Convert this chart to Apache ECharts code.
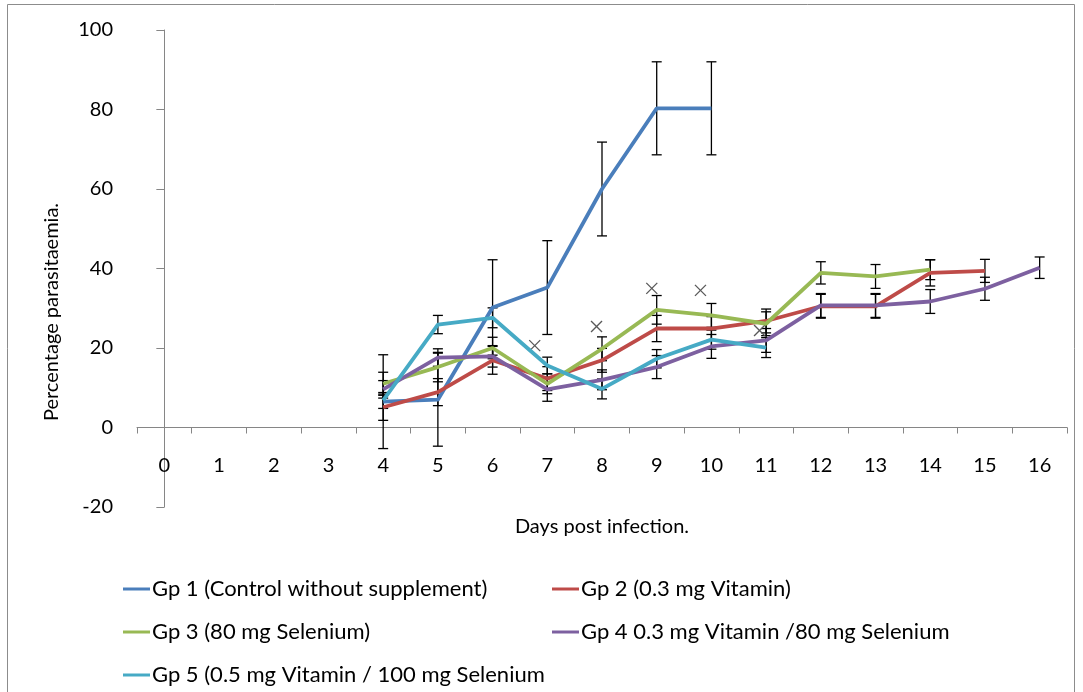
<!DOCTYPE html>
<html>
<head>
<meta charset="utf-8">
<script src="https://cdn.jsdelivr.net/npm/echarts@6/dist/echarts.min.js"></script>
<style>
  html, body { margin: 0; padding: 0; background: #fff; }
  #chart { width: 1083px; height: 692px; }
</style>
</head>
<body>
<div id="chart"></div>
<script>
// days post infection (category axis)
var days = ['0', '1', '2', '3', '4', '5', '6', '7', '8', '9', '10', '11', '12', '13', '14', '15', '16']

// mean % parasitaemia per group (null = not measured)
var gp1 = [null, null, null, null, 6.5, 7.0, 30.2, 35.2, 60.0, 80.3, 80.3, null, null, null, null, null, null]
var gp2 = [null, null, null, null, 5.1, 8.9, 16.9, 12.3, 16.9, 24.9, 24.9, 26.8, 30.5, 30.5, 38.9, 39.4, null]
var gp3 = [null, null, null, null, 11.0, 15.2, 20.0, 11.0, 19.8, 29.6, 28.2, 26.1, 38.9, 38.0, 39.7, null, null]
var gp4 = [null, null, null, null, 9.6, 17.6, 17.9, 9.6, 12.0, 15.2, 20.4, 21.9, 30.7, 30.7, 31.7, 34.9, 40.2]
var gp5 = [null, null, null, null, 6.8, 25.9, 27.6, 15.6, 9.7, 17.3, 22.1, 20.1, null, null, null, null, null]

// error bar half-widths
var err1 = [null, null, null, null, 11.8, 11.7, 12.0, 11.8, 11.8, 11.7, 11.7, null, null, null, null, null, null]
var err2 = [null, null, null, null, 3.3, 3.4, 3.5, 3.0, 3.0, 3.3, 3.0, 3.0, 3.0, 3.0, 3.3, 2.9, null]
var err3 = [null, null, null, null, 2.9, 3.7, 2.7, 2.5, 3.0, 3.6, 3.0, 3.0, 2.8, 3.0, 2.5, null, null]
var err4 = [null, null, null, null, 2.2, 2.2, 2.7, 3.0, 2.5, 2.9, 3.0, 3.0, 3.0, 3.0, 3.0, 2.9, 2.7]
var err5 = [null, null, null, null, 2.0, 2.3, 2.5, 2.1, 2.5, 2.3, 2.4, 2.5, null, null, null, null, null]

// stray "x" markers (day position, value)
var crossDay = [6.77, 7.90, 8.91, 9.80, 10.88]
var crossVal = [20.6, 25.4, 35.0, 34.5, 24.4]

var names = [
  'Gp 1 (Control without supplement)',
  'Gp 2 (0.3 mg Vitamin)',
  'Gp 3 (80 mg Selenium)',
  'Gp 4 0.3 mg Vitamin /80 mg Selenium',
  'Gp 5 (0.5 mg Vitamin / 100 mg Selenium'
]
var colors = ['#4A7EBB', '#BE4B48', '#98B954', '#7D60A0', '#46AAC5']
var means = [gp1, gp2, gp3, gp4, gp5]
var errs = [err1, err2, err3, err4, err5]

var font = 'Lato, "Open Sans", sans-serif'
var fs = 20

function errData(m, e) {
  var out = []
  m.forEach(function(v, i) {
    if (v !== null && e[i] !== null) out.push([i, v, e[i]])
  })
  return out
}

function renderErr(params, api) {
  var x = api.value(0)
  var y = api.value(1)
  var e = api.value(2)
  var top = api.coord([x, y + e])
  var bot = api.coord([x, y - e])
  var w = 5
  var st = { stroke: '#000', lineWidth: 1.3 }
  return {
    type: 'group',
    children: [
      { type: 'line', shape: { x1: top[0], y1: top[1], x2: bot[0], y2: bot[1] }, style: st },
      { type: 'line', shape: { x1: top[0] - w, y1: top[1], x2: top[0] + w, y2: top[1] }, style: st },
      { type: 'line', shape: { x1: bot[0] - w, y1: bot[1], x2: bot[0] + w, y2: bot[1] }, style: st }
    ]
  }
}

function renderCross(params, api) {
  var p = api.coord([api.value(0), api.value(1)])
  var s = 5.5
  var st = { stroke: '#595959', lineWidth: 1.3 }
  return {
    type: 'group',
    children: [
      { type: 'line', shape: { x1: p[0] - s, y1: p[1] - s, x2: p[0] + s, y2: p[1] + s }, style: st },
      { type: 'line', shape: { x1: p[0] - s, y1: p[1] + s, x2: p[0] + s, y2: p[1] - s }, style: st }
    ]
  }
}

var series = []
means.forEach(function(m, k) {
  series.push({
    name: 'err ' + (k + 1),
    type: 'custom',
    renderItem: renderErr,
    data: errData(m, errs[k]),
    z: 1,
    silent: true
  })
})
means.forEach(function(m, k) {
  series.push({
    name: names[k],
    type: 'line',
    data: m,
    symbol: 'none',
    color: colors[k],
    lineStyle: { width: 3.8, color: colors[k] },
    z: 3
  })
})
series.push({
  name: 'x marks',
  type: 'custom',
  xAxisIndex: 1,
  renderItem: renderCross,
  data: crossDay.map(function(d, i) { return [d, crossVal[i]] }),
  z: 2,
  silent: true
})

var legendCommon = {
  orient: 'vertical',
  icon: 'rect',
  padding: 0,
  itemWidth: 27,
  itemHeight: 3,
  itemGap: 21,
  selectedMode: false,
  textStyle: { fontFamily: font, fontSize: 22, color: '#000', lineHeight: 21, padding: [0, 0, 0, -3] }
}

var chart = echarts.init(document.getElementById('chart'), null, { renderer: 'canvas' })
chart.setOption({
  animation: false,
  backgroundColor: '#fff',
  grid: { left: 137, right: 16, top: 30, bottom: 185, containLabel: false },
  legend: [
    Object.assign({}, legendCommon, { left: 123, top: 578, data: [names[0], names[2], names[4]] }),
    Object.assign({}, legendCommon, { left: 552, top: 578, data: [names[1], names[3]] })
  ],
  xAxis: [
    {
      type: 'category',
      data: days,
      name: 'Days post infection.',
      nameLocation: 'middle',
      nameGap: 10,
      nameTextStyle: { fontFamily: font, fontSize: fs, color: '#000' },
      axisLine: { onZero: true, lineStyle: { color: '#868686', width: 1 } },
      axisTick: { show: true, length: 6, lineStyle: { color: '#868686' } },
      axisLabel: { margin: -51, fontFamily: font, fontSize: fs, color: '#000' },
      splitLine: { show: false }
    },
    {
      type: 'value',
      min: -0.5,
      max: 16.5,
      show: false
    }
  ],
  yAxis: {
    type: 'value',
    min: -20,
    max: 100,
    interval: 20,
    axisLine: { show: true, lineStyle: { color: '#868686', width: 1 } },
    axisTick: { show: true, length: 8, lineStyle: { color: '#868686' } },
    axisLabel: { margin: 24, fontFamily: font, fontSize: fs, color: '#000' },
    splitLine: { show: false }
  },
  graphic: [
    {
      type: 'rect',
      shape: { x: 7.5, y: 4.5, width: 1067, height: 700 },
      style: { fill: 'none', stroke: '#8c8c8c', lineWidth: 1 },
      silent: true
    },
    {
      type: 'text',
      x: 52,
      y: 312,
      rotation: Math.PI / 2,
      style: {
        text: 'Percentage parasitaemia.',
        fontFamily: font,
        fontSize: fs,
        fill: '#000',
        align: 'center',
        verticalAlign: 'middle'
      }
    }
  ],
  series: series
})
</script>
</body>
</html>
